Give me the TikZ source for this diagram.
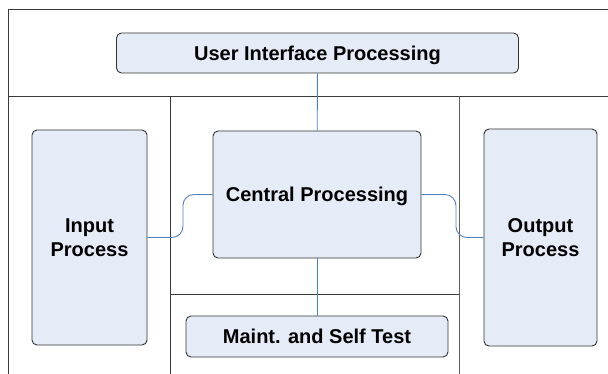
\documentclass[tikz,border=0pt]{standalone}
\usepackage{fontspec}
\setmainfont{Liberation Sans}
\definecolor{boxfill}{HTML}{E6ECF7}
\definecolor{linkblue}{HTML}{5282C2}
\definecolor{framegray}{HTML}{3A3A3A}

\begin{document}
\begin{tikzpicture}[x=1pt, y=-1pt,
    block/.style={rectangle, draw=black!80, fill=boxfill, rounded corners=5pt, line width=0.9pt,
      align=center, inner sep=0pt, text depth=0pt, font=\fontsize{20}{24}\selectfont\bfseries},
    link/.style={draw=linkblue, line width=0.9pt, rounded corners=11pt}]
    \useasboundingbox (0,0) rectangle (608,374);

    % Rahmen
    \draw[framegray, line width=0.8pt] (8,374) -- (8,9) -- (608,9);
    \draw[framegray, line width=0.8pt] (8,96) -- (608,96);
    \draw[framegray, line width=0.8pt] (170,96) -- (170,374);
    \draw[framegray!80, line width=0.8pt] (459,96) -- (459,374);
    \draw[framegray, line width=0.8pt] (170,294) -- (459,294);

    \node[block, minimum width=402pt, minimum height=40pt] (ui) at (317.5, 53) {User Interface Processing};
    \node[block, minimum width=115pt, minimum height=215pt] (inp) at (89.5, 237.5) {Input\\Process};
    \node[block, minimum width=208pt, minimum height=127pt] (cen) at (317, 194.5) {Central Processing};
    \node[block, minimum width=113pt, minimum height=217pt] (out) at (540.5, 237.5) {Output\\Process};
    \node[block, minimum width=262pt, minimum height=41pt] (mnt) at (317, 336.5) {Maint. and Self Test};

    % Verbindungen
    \draw[link] (ui) -- (cen);
    \draw[link] (cen) -- (mnt);
    \draw[link] (inp.east) -- ++(35.5,0) |- (cen.west);
    \draw[link] (cen.east) -- ++(34.5,0) |- (out.west);
  \end{tikzpicture}
\end{document}
